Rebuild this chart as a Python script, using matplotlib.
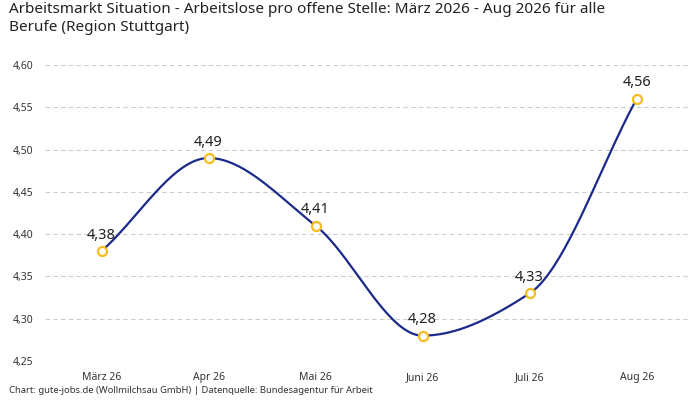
import numpy as np
import matplotlib
matplotlib.use("Agg")
import matplotlib.pyplot as plt

plt.rcParams['font.family'] = ['Noto Sans', 'DejaVu Sans']

monate = ["März 26", "Apr 26", "Mai 26", "Juni 26", "Juli 26", "Aug 26"]
werte = [4.38, 4.49, 4.41, 4.28, 4.33, 4.56]


def monotone_kurve(x, y, n=40):
    # Fritsch-Carlson, damit die Linie glatt durch die Punkte geht
    x = np.asarray(x, float)
    y = np.asarray(y, float)
    h = np.diff(x)
    d = np.diff(y) / h
    m = np.zeros_like(y)
    m[0], m[-1] = d[0], d[-1]
    for i in range(1, len(y) - 1):
        if d[i - 1] * d[i] <= 0:
            m[i] = 0
        else:
            m[i] = 2 / (1 / d[i - 1] + 1 / d[i])
    xs, ys = [], []
    for i in range(len(x) - 1):
        t = np.linspace(0, 1, n)
        h00 = 2 * t**3 - 3 * t**2 + 1
        h10 = t**3 - 2 * t**2 + t
        h01 = -2 * t**3 + 3 * t**2
        h11 = t**3 - t**2
        xs.extend(x[i] + t * h[i])
        ys.extend(h00 * y[i] + h10 * h[i] * m[i] + h01 * y[i + 1] + h11 * h[i] * m[i + 1])
    return np.array(xs), np.array(ys)


fig = plt.figure(figsize=(7, 4), dpi=100)
ax = fig.add_axes([0.064, 0.0975, 0.922, 0.74])

pos = np.arange(len(monate))
kx, ky = monotone_kurve(pos, werte)
ax.plot(kx, ky, color="#1b2a8a", lw=1.6, zorder=2)
ax.plot(pos, werte, "o", ms=6.5, mfc="white", mec="#f5bd1f", mew=1.6, zorder=3)

for p, w in zip(pos, werte):
    ax.annotate(f"{w:.2f}".replace(".", ","), (p, w), xytext=(0, 6),
                textcoords="offset points", ha="center", va="bottom",
                fontsize=10.5, fontweight="bold", color="#222222")

ax.set_xlim(-0.53, 5.5)
ax.set_ylim(4.25, 4.60)
ax.set_xticks(pos)
ax.set_xticklabels(monate)
yt = np.arange(4.25, 4.601, 0.05)
ax.set_yticks(yt)
ax.set_yticklabels([f"{v:.2f}".replace(".", ",") for v in yt])
ax.tick_params(length=0, labelsize=7.5, colors="#333333", pad=8)
ax.grid(axis="y", color="#cccccc", ls=(0, (4, 3)), lw=0.8)
for s in ax.spines.values():
    s.set_visible(False)

fig.text(0.013, 0.995, "Arbeitsmarkt Situation - Arbeitslose pro offene Stelle: März 2026 - Aug 2026 für alle\nBerufe (Region Stuttgart)",
         ha="left", va="top", fontsize=11, fontweight="bold", color="#222222", linespacing=1.3)
fig.text(0.013, 0.012, "Chart: gute-jobs.de (Wollmilchsau GmbH) | Datenquelle: Bundesagentur für Arbeit",
         ha="left", va="bottom", fontsize=6.8, color="#333333")

fig.savefig("out.png", dpi=100)
